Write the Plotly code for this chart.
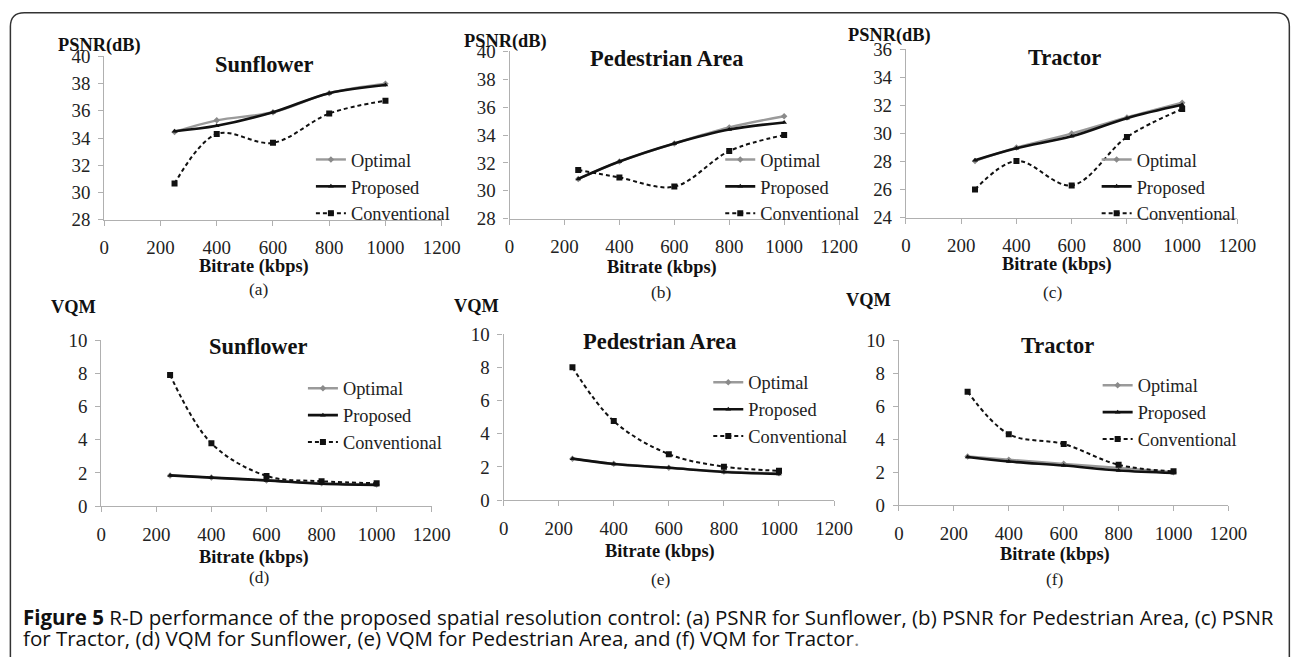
import plotly.graph_objects as go

W, H = 1292, 657
# the photographed page shows the figure slightly scaled and offset; design coordinates
# below are measured on the reference and mapped back through that transform
SX, SY, OX, OY = 0.983, 0.973, 3.6, 9.3
FS = 1.02  # font compensation

bitrate = [250, 400, 600, 800, 1000]
series_names = ["Optimal", "Proposed", "Conventional"]

psnr_sunflower_optimal = [34.45, 35.3, 35.9, 37.3, 38.0]
psnr_sunflower_proposed = [34.5, 34.9, 35.9, 37.3, 37.9]
psnr_sunflower_conventional = [30.65, 34.3, 33.65, 35.8, 36.75]

psnr_pedestrian_optimal = [30.85, 32.1, 33.4, 34.55, 35.35]
psnr_pedestrian_proposed = [30.85, 32.1, 33.4, 34.4, 34.9]
psnr_pedestrian_conventional = [31.5, 30.95, 30.3, 32.85, 34.0]

psnr_tractor_optimal = [28.05, 29.0, 30.0, 31.15, 32.2]
psnr_tractor_proposed = [28.1, 28.95, 29.8, 31.1, 32.05]
psnr_tractor_conventional = [26.0, 28.05, 26.3, 29.75, 31.75]

vqm_sunflower_optimal = [1.85, 1.72, 1.55, 1.38, 1.3]
vqm_sunflower_proposed = [1.85, 1.72, 1.55, 1.35, 1.28]
vqm_sunflower_conventional = [7.9, 3.78, 1.82, 1.5, 1.38]

vqm_pedestrian_optimal = [2.5, 2.2, 1.95, 1.72, 1.62]
vqm_pedestrian_proposed = [2.5, 2.18, 1.95, 1.7, 1.58]
vqm_pedestrian_conventional = [8.0, 4.76, 2.77, 2.02, 1.77]

vqm_tractor_optimal = [2.95, 2.75, 2.5, 2.25, 2.0]
vqm_tractor_proposed = [2.92, 2.64, 2.4, 2.1, 1.95]
vqm_tractor_conventional = [6.87, 4.3, 3.7, 2.44, 2.05]

titles = ["Sunflower", "Pedestrian Area", "Tractor", "Sunflower", "Pedestrian Area", "Tractor"]
ylabels = ["PSNR(dB)", "PSNR(dB)", "PSNR(dB)", "VQM", "VQM", "VQM"]
letters = ["(a)", "(b)", "(c)", "(d)", "(e)", "(f)"]
y_ranges = [[28, 40], [28, 40], [24, 36], [0, 10], [0, 10], [0, 10]]
x_range = [0, 1200]
caption_line1 = ("<b>Figure 5</b> R-D performance of the proposed spatial resolution control: "
                 "(a) PSNR for Sunflower, (b) PSNR for Pedestrian Area, (c) PSNR")
caption_line2 = ("for Tractor, (d) VQM for Sunflower, (e) VQM for Pedestrian Area, and (f) VQM for Tractor"
                 "<span style='color:#888'>.</span>")

panels_data = [
    (psnr_sunflower_optimal, psnr_sunflower_proposed, psnr_sunflower_conventional),
    (psnr_pedestrian_optimal, psnr_pedestrian_proposed, psnr_pedestrian_conventional),
    (psnr_tractor_optimal, psnr_tractor_proposed, psnr_tractor_conventional),
    (vqm_sunflower_optimal, vqm_sunflower_proposed, vqm_sunflower_conventional),
    (vqm_pedestrian_optimal, vqm_pedestrian_proposed, vqm_pedestrian_conventional),
    (vqm_tractor_optimal, vqm_tractor_proposed, vqm_tractor_conventional),
]

# layout in reference pixels: plot box x0, x1, y0(top), y1(bottom)
boxes = [
    (103, 441, 56, 220),
    (509, 839, 51, 219),
    (906, 1238, 49, 218),
    (100, 431, 341, 508),
    (503, 834, 335, 502),
    (899, 1229, 341, 507),
]
title_pos = [(264, 64), (667, 58), (1065, 57), (258, 348), (660, 342), (1058, 347)]
ylabel_pos = [(98, 45), (505, 41), (890, 35), (72, 308), (476, 307), (868, 301)]
xlabel_pos = [(253, 267), (662, 268), (1057, 265), (253, 560), (660, 554), (1055, 557)]
letter_pos = [(258, 290), (661, 293), (1053, 293), (258, 580), (660, 582), (1055, 582)]
legend_pos = [(310, 141), (720, 141), (1097, 141), (302, 371), (708, 365), (1098, 368)]

SERIF = "Liberation Serif, Times New Roman, serif"
CAP = "Open Sans, Liberation Sans, sans-serif"

def px(x):
    return ((x - OX) / SX) / W

def py(y):
    return 1 - ((y - OY) / SY) / H

styles = {
    "Optimal": dict(line=dict(color="#9a9a9a", width=2.4, shape="spline", smoothing=1),
                    marker=dict(symbol="diamond", size=5, color="#8a8a8a")),
    "Proposed": dict(line=dict(color="#111111", width=2.6, shape="spline", smoothing=1),
                     marker=dict(symbol="triangle-up", size=5, color="#111111")),
    "Conventional": dict(line=dict(color="#111111", width=2, dash="4px,3px", shape="spline", smoothing=1),
                         marker=dict(symbol="square", size=6, color="#111111")),
}

fig = go.Figure()
annotations = []
layout_axes = {}

for i in range(6):
    n = i + 1
    xa = "x" if n == 1 else f"x{n}"
    ya = "y" if n == 1 else f"y{n}"
    lg = "legend" if n == 1 else f"legend{n}"
    x0, x1, y0, y1 = boxes[i]
    for name, ys in zip(series_names, panels_data[i]):
        st = styles[name]
        fig.add_trace(go.Scatter(
            x=bitrate, y=ys, name=name, mode="lines+markers",
            line=st["line"], marker=st["marker"],
            xaxis=xa, yaxis=ya, legend=lg,
        ))
    xkey = "xaxis" if n == 1 else f"xaxis{n}"
    ykey = "yaxis" if n == 1 else f"yaxis{n}"
    layout_axes[xkey] = dict(
        domain=[px(x0), px(x1)], anchor=ya, range=x_range, dtick=200, tick0=0,
        showgrid=False, zeroline=False, showline=True, linecolor="#b0b0b0", linewidth=1.3,
        ticks="outside", ticklen=5, tickcolor="#b0b0b0", tickwidth=1.3,
        ticklabelstandoff=6,
        tickfont=dict(family=SERIF, size=18.5 * FS, color="#222"),
    )
    layout_axes[ykey] = dict(
        domain=[py(y1), py(y0)], anchor=xa, range=y_ranges[i], dtick=2,
        showgrid=False, zeroline=False, showline=True, linecolor="#b0b0b0", linewidth=1.3,
        ticks="outside", ticklen=5, tickcolor="#b0b0b0", tickwidth=1.3,
        ticklabelstandoff=4,
        tickfont=dict(family=SERIF, size=18.5 * FS, color="#222"),
    )
    lx, ly = legend_pos[i]
    layout_axes[lg] = dict(
        x=px(lx), y=py(ly), xanchor="left", yanchor="top",
        bgcolor="rgba(0,0,0,0)", borderwidth=0,
        font=dict(family=SERIF, size=18 * FS, color="#222"),
        itemwidth=30, tracegroupgap=0,
    )
    tx, ty = title_pos[i]
    annotations.append(dict(text=f"<b>{titles[i]}</b>", x=px(tx), y=py(ty), xref="paper", yref="paper",
                            showarrow=False, xanchor="center", yanchor="middle",
                            font=dict(family=SERIF, size=22 * FS, color="#111")))
    lx2, ly2 = ylabel_pos[i]
    annotations.append(dict(text=f"<b>{ylabels[i]}</b>", x=px(lx2), y=py(ly2), xref="paper", yref="paper",
                            showarrow=False, xanchor="center", yanchor="middle",
                            font=dict(family=SERIF, size=18 * FS, color="#111")))
    bx, by = xlabel_pos[i]
    annotations.append(dict(text="<b>Bitrate (kbps)</b>", x=px(bx), y=py(by), xref="paper", yref="paper",
                            showarrow=False, xanchor="center", yanchor="middle",
                            font=dict(family=SERIF, size=18 * FS, color="#111")))
    cx, cy = letter_pos[i]
    annotations.append(dict(text=letters[i], x=px(cx), y=py(cy), xref="paper", yref="paper",
                            showarrow=False, xanchor="center", yanchor="middle",
                            font=dict(family=SERIF, size=17 * FS, color="#222")))

annotations.append(dict(
    text=caption_line1, x=px(20), y=py(619), xref="paper", yref="paper", showarrow=False,
    xanchor="left", yanchor="middle", font=dict(family=CAP, size=20.5, color="#111")))
annotations.append(dict(
    text=caption_line2, x=px(20), y=py(641), xref="paper", yref="paper", showarrow=False,
    xanchor="left", yanchor="middle", font=dict(family=CAP, size=20.5, color="#111")))

border_path = (f"M {px(9)},{py(680)} L {px(9)},{py(26)} Q {px(9)},{py(12)} {px(23)},{py(12)} "
               f"L {px(1277)},{py(12)} Q {px(1290)},{py(12)} {px(1290)},{py(26)} L {px(1290)},{py(680)}")

fig.update_layout(
    width=W, height=H, margin=dict(l=0, r=0, t=0, b=0),
    paper_bgcolor="white", plot_bgcolor="white",
    showlegend=True,
    annotations=annotations,
    shapes=[dict(type="path", path=border_path, xref="paper", yref="paper",
                 line=dict(color="#333", width=1.5))],
    **layout_axes,
)

fig.write_html("out.html")
